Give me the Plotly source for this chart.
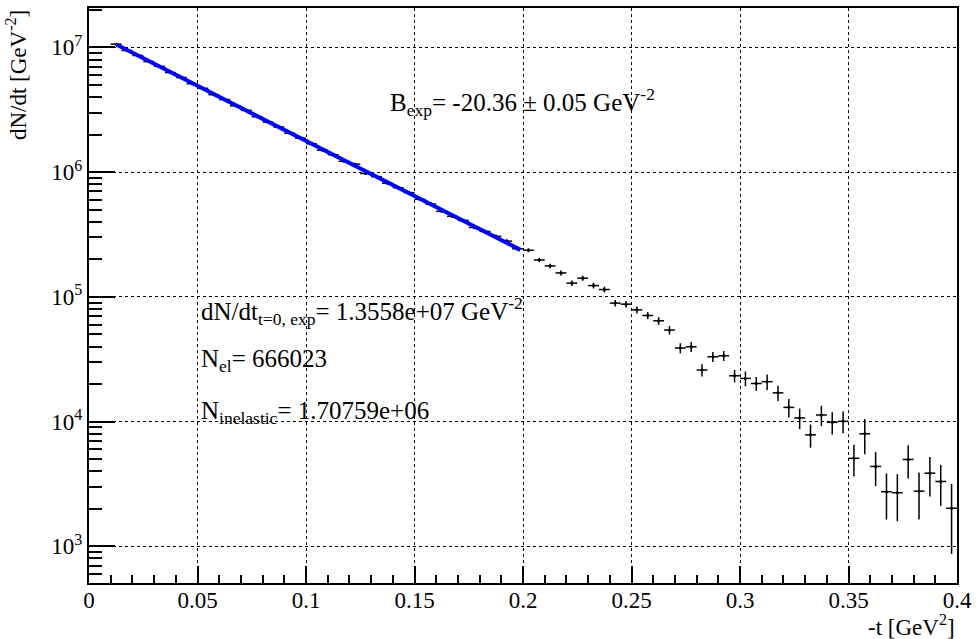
import plotly.graph_objects as go

# bin centres of -t [GeV^2]
t_bins = [0.0125, 0.0175, 0.0225, 0.0275, 0.0325, 0.0375, 0.0425, 0.0475, 0.0525, 0.0575,
          0.0625, 0.0675, 0.0725, 0.0775, 0.0825, 0.0875, 0.0925, 0.0975, 0.1025, 0.1075,
          0.1125, 0.1175, 0.1225, 0.1275, 0.1325, 0.1375, 0.1425, 0.1475, 0.1525, 0.1575,
          0.1625, 0.1675, 0.1725, 0.1775, 0.1825, 0.1875, 0.1925, 0.1975, 0.2025, 0.2075,
          0.2125, 0.2175, 0.2225, 0.2275, 0.2325, 0.2375, 0.2425, 0.2475, 0.2525, 0.2575,
          0.2625, 0.2675, 0.2725, 0.2775, 0.2825, 0.2875, 0.2925, 0.2975, 0.3025, 0.3075,
          0.3125, 0.3175, 0.3225, 0.3275, 0.3325, 0.3375, 0.3425, 0.3475, 0.3525, 0.3575,
          0.3625, 0.3675, 0.3725, 0.3775, 0.3825, 0.3875, 0.3925, 0.3975]
bin_half_width = 0.0025

dNdt = [1.062e7, 9.45e6, 8.62e6, 7.70e6, 7.05e6, 6.28e6, 5.74e6, 5.12e6, 4.70e6, 4.18e6,
        3.82e6, 3.40e6, 3.13e6, 2.78e6, 2.52e6, 2.30e6, 2.05e6, 1.87e6, 1.69e6, 1.50e6,
        1.38e6, 1.22e6, 1.16e6, 9.75e5, 9.20e5, 8.15e5, 7.50e5, 6.85e5, 6.05e5, 5.55e5,
        4.85e5, 4.42e5, 4.10e5, 3.60e5, 3.35e5, 3.06e5, 2.80e5, 2.43e5, 2.365e5, 1.977e5,
        1.77e5, 1.556e5, 1.288e5, 1.413e5, 1.232e5, 1.145e5, 8.91e4, 8.74e4, 7.87e4, 7.09e4,
        6.43e4, 5.42e4, 3.89e4, 3.98e4, 2.59e4, 3.31e4, 3.37e4, 2.33e4, 2.22e4, 2.02e4,
        2.09e4, 1.70e4, 1.30e4, 1.07e4, 7.83e3, 1.13e4, 9.87e3, 1.005e4, 5.08e3, 7.98e3,
        4.37e3, 2.74e3, 2.69e3, 4.97e3, 2.77e3, 3.86e3, 3.31e3, 2.02e3]

dNdt_err = [5.9e4, 5.5e4, 5.3e4, 5.0e4, 4.8e4, 4.5e4, 4.3e4, 4.1e4, 3.9e4, 3.7e4,
            3.5e4, 3.3e4, 3.2e4, 3.0e4, 2.9e4, 2.7e4, 2.6e4, 2.5e4, 2.3e4, 2.2e4,
            2.1e4, 2.0e4, 1.9e4, 1.8e4, 1.7e4, 1.6e4, 1.56e4, 1.49e4, 1.4e4, 1.34e4,
            1.25e4, 1.2e4, 1.15e4, 1.08e4, 1.04e4, 1.0e4, 9.5e3, 8.9e3, 8.8e3, 8.0e3,
            7.6e3, 7.1e3, 6.5e3, 6.8e3, 6.3e3, 6.1e3, 5.4e3, 5.3e3, 5.0e3, 4.8e3,
            4.6e3, 4.3e3, 3.6e3, 3.6e3, 2.9e3, 3.0e3, 3.1e3, 2.7e3, 3.0e3, 2.6e3,
            3.0e3, 2.4e3, 2.2e3, 2.0e3, 1.65e3, 2.1e3, 2.0e3, 2.0e3, 1.45e3, 2.5e3,
            1.33e3, 1.1e3, 1.1e3, 1.48e3, 1.13e3, 1.35e3, 1.2e3, 1.15e3]

# exponential fit line end points (straight on log scale)
fit_t = [0.0128, 0.1988]
fit_y = [1.052e7, 2.38e5]

x_major = [0, 0.05, 0.1, 0.15, 0.2, 0.25, 0.3, 0.35, 0.4]
x_labels = ["0", "0.05", "0.1", "0.15", "0.2", "0.25", "0.3", "0.35", "0.4"]
x_minor = [0.01, 0.02, 0.03, 0.04, 0.06, 0.07, 0.08, 0.09, 0.11, 0.12, 0.13, 0.14,
           0.16, 0.17, 0.18, 0.19, 0.21, 0.22, 0.23, 0.24, 0.26, 0.27, 0.28, 0.29,
           0.31, 0.32, 0.33, 0.34, 0.36, 0.37, 0.38, 0.39]
y_major = [1e3, 1e4, 1e5, 1e6, 1e7]
y_labels = ["10<sup>3</sup>", "10<sup>4</sup>", "10<sup>5</sup>", "10<sup>6</sup>", "10<sup>7</sup>"]
y_minor = [m * 10 ** e for e in range(2, 8) for m in range(2, 10) if 5e2 < m * 10 ** e < 2.1e7]

FONT = "Liberation Serif, Times New Roman, serif"
FS_TICK = 23
FS_TEXT = 25
FS_TITLE = 23

fig = go.Figure()
fig.add_trace(go.Scatter(
    x=t_bins, y=dNdt, mode="markers",
    marker=dict(color="black", size=3),
    error_y=dict(type="data", array=dNdt_err, color="black", thickness=1.5, width=0),
    error_x=dict(type="constant", value=bin_half_width, color="black", thickness=1.5, width=0),
    showlegend=False, hoverinfo="x+y"))
fig.add_trace(go.Scatter(
    x=fit_t, y=fit_y, mode="lines",
    line=dict(color="#0000ff", width=4), showlegend=False))

axis_common = dict(showline=True, linecolor="black", linewidth=2, mirror=True,
                   ticks="inside", tickcolor="black", tickwidth=1.5,
                   showgrid=True, gridcolor="black", gridwidth=1, griddash="dot",
                   zeroline=False, tickfont=dict(family=FONT, size=FS_TICK, color="black"))

fig.update_xaxes(range=[0, 0.4], tickmode="array", tickvals=x_major, ticktext=x_labels,
                 ticklen=17, ticklabelstandoff=-5,
                 minor=dict(tickmode="array", tickvals=x_minor, ticklen=8, ticks="inside",
                            tickcolor="black", tickwidth=1.5, showgrid=False),
                 **axis_common)
fig.update_yaxes(type="log", range=[2.706, 7.316], tickmode="array", tickvals=y_major,
                 ticktext=y_labels, ticklen=26,
                 minor=dict(tickmode="array", tickvals=y_minor, ticklen=13, ticks="inside",
                            tickcolor="black", tickwidth=1.5, showgrid=False),
                 **axis_common)

tf = dict(family=FONT, size=FS_TEXT, color="black")
ttf = dict(family=FONT, size=FS_TITLE, color="black")
annots = [
    dict(x=0.138, y=6.56, xref="x", yref="y", xanchor="left", yanchor="middle",
         text="B<sub>exp</sub>= -20.36 ± 0.05 GeV<sup>-2</sup>", font=tf),
    dict(x=0.0505, y=4.89, xref="x", yref="y", xanchor="left", yanchor="middle",
         text="dN/dt<sub>t=0, exp</sub>= 1.3558e+07 GeV<sup>-2</sup>", font=tf),
    dict(x=0.0505, y=4.488, xref="x", yref="y", xanchor="left", yanchor="middle",
         text="N<sub>el</sub>= 666023", font=tf),
    dict(x=0.0505, y=4.075, xref="x", yref="y", xanchor="left", yanchor="middle",
         text="N<sub>inelastic</sub>= 1.70759e+06", font=tf),
    dict(x=1.0, y=-0.046, xref="paper", yref="paper", xanchor="right", yanchor="top",
         text="-t [GeV<sup>2</sup>]", font=ttf),
    dict(x=-0.084, y=1.0, xref="paper", yref="paper", xanchor="center", yanchor="top",
         text="dN/dt [GeV<sup>-2</sup>]", textangle=-90, font=ttf),
]
for a in annots:
    a.update(showarrow=False)
fig.update_layout(annotations=annots)

fig.update_layout(width=978, height=639,
                  margin=dict(l=89, r=21, t=6, b=56),
                  paper_bgcolor="white", plot_bgcolor="white",
                  font=dict(family=FONT, size=FS_TICK, color="black"))

fig.write_html("out.html", config={"displayModeBar": False},
               post_script="document.body.style.margin='0';document.body.style.overflow='hidden';")
